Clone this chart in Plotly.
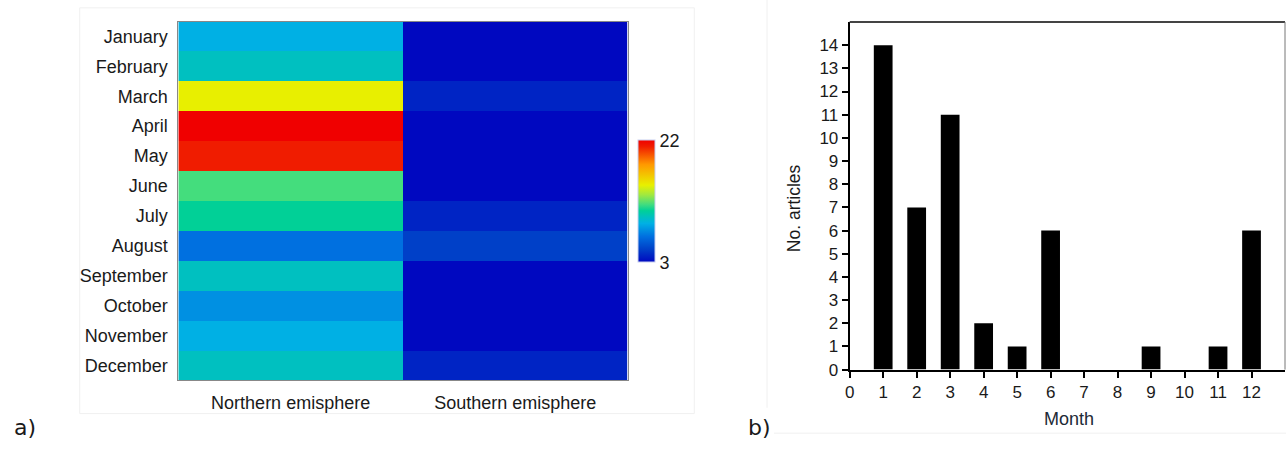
import plotly.graph_objects as go

# Panel a: monthly values per hemisphere
months = ["January", "February", "March", "April", "May", "June", "July",
          "August", "September", "October", "November", "December"]
hemispheres = ["Northern emisphere", "Southern emisphere"]
northern = [9, 10, 15, 22, 21, 12, 11, 7, 10, 8, 9, 10]
southern = [3, 3, 4, 3, 3, 3, 4, 5, 3, 3, 3, 4]
cbar_ticks = [3, 22]

# Panel b: number of articles per month
month_num = [1, 2, 3, 4, 5, 6, 7, 8, 9, 10, 11, 12]
articles = [14, 7, 11, 2, 1, 6, 0, 0, 1, 0, 1, 6]
x_ticks = list(range(0, 13))
y_ticks = list(range(0, 15))

W, H = 1286, 451
FONT = "Liberation Sans, Arial, sans-serif"
TXT = "#1a1a1a"


def px(x):
    return x / W


def py(y):
    return 1 - y / H


jet = [
    [0.00, "#0008c0"], [0.105, "#0040c8"], [0.21, "#0070e0"],
    [0.316, "#00b0e4"], [0.368, "#00c0c0"], [0.42, "#00d098"],
    [0.47, "#40dc80"], [0.55, "#a0e840"], [0.63, "#e8f000"],
    [0.80, "#ff9800"], [0.947, "#f01c00"], [1.00, "#f00000"],
]

z = [[n, s] for n, s in zip(northern, southern)]

fig = go.Figure()

fig.add_trace(go.Heatmap(
    z=z, x=hemispheres, y=months, zmin=3, zmax=22,
    colorscale=jet, xgap=0, ygap=0, hoverinfo="skip",
    xaxis="x", yaxis="y",
    colorbar=dict(
        x=px(635), xanchor="left", y=py(206), yanchor="middle",
        thickness=17, thicknessmode="pixels",
        len=122, lenmode="pixels",
        tickvals=cbar_ticks, ticktext=[str(v) for v in cbar_ticks],
        ticks="", outlinewidth=1, outlinecolor="#c8d0f0",
        tickfont=dict(family=FONT, size=18, color=TXT),
        xpad=0, ypad=0,
    ),
))

fig.add_trace(go.Bar(
    x=month_num, y=articles, width=0.56,
    marker=dict(color="black", line=dict(width=0)),
    xaxis="x2", yaxis="y2", hoverinfo="skip", showlegend=False,
))

fig.update_layout(
    width=W, height=H,
    margin=dict(l=0, r=0, t=0, b=0),
    paper_bgcolor="white", plot_bgcolor="white",
    showlegend=False,
    font=dict(family=FONT, color=TXT),
    xaxis=dict(
        domain=[px(174), px(625)], anchor="y",
        showgrid=False, zeroline=False,
        showline=True, mirror=True, linecolor="#888888", linewidth=1,
        ticks="", tickfont=dict(family=FONT, size=18, color=TXT),
        ticklabelstandoff=6,
    ),
    yaxis=dict(
        domain=[py(389), py(22)], anchor="x",
        autorange="reversed",
        showgrid=False, zeroline=False,
        showline=True, mirror=True, linecolor="#888888", linewidth=1,
        ticks="", tickfont=dict(family=FONT, size=18, color=TXT),
        ticklabelstandoff=6,
    ),
    xaxis2=dict(
        domain=[px(848), px(1285)], anchor="y2",
        range=[0, 13], tickvals=x_ticks,
        showgrid=False, zeroline=False,
        showline=True, linecolor="black", linewidth=2,
        ticks="outside", ticklen=6, tickwidth=2, tickcolor="black",
        tickfont=dict(family=FONT, size=17, color=TXT),
    ),
    yaxis2=dict(
        domain=[py(378), py(22.5)], anchor="x2",
        range=[0, 15], tickvals=y_ticks,
        showgrid=False, zeroline=False,
        showline=True, linecolor="black", linewidth=2,
        ticks="outside", ticklen=6, tickwidth=2, tickcolor="black",
        tickfont=dict(family=FONT, size=17, color=TXT),
    ),
)

shapes = [
    # faint frame around panel a
    dict(type="rect", xref="paper", yref="paper",
         x0=px(75), x1=px(692), y0=py(423), y1=py(8),
         line=dict(color="#f0f0f0", width=1), layer="below"),
    # faint separators around panel b
    dict(type="line", xref="paper", yref="paper",
         x0=px(765), x1=px(765), y0=py(417), y1=1,
         line=dict(color="#f0f0f0", width=1), layer="below"),
    dict(type="line", xref="paper", yref="paper",
         x0=px(772), x1=1, y0=py(443), y1=py(443),
         line=dict(color="#f0f0f0", width=1), layer="below"),
    # box edges of the bar plot
    dict(type="line", xref="x2 domain", yref="y2 domain",
         x0=0, x1=1, y0=1, y1=1,
         line=dict(color="#444444", width=2)),
    dict(type="line", xref="x2 domain", yref="y2 domain",
         x0=1, x1=1, y0=0, y1=1,
         line=dict(color="#777777", width=1)),
]
fig.update_layout(shapes=shapes)

annotations = [
    dict(text="No. articles", xref="paper", yref="paper",
         x=px(792), y=py(213), textangle=-90, showarrow=False,
         xanchor="center", yanchor="middle",
         font=dict(family=FONT, size=17.5, color=TXT)),
    dict(text="Month", xref="paper", yref="paper",
         x=px(1068), y=py(428), showarrow=False,
         xanchor="center", yanchor="middle",
         font=dict(family=FONT, size=18, color="#1e2a36")),
    dict(text="a)", xref="paper", yref="paper",
         x=px(20), y=py(437), showarrow=False,
         xanchor="center", yanchor="middle",
         font=dict(family="DejaVu Sans, sans-serif", size=22, color=TXT)),
    dict(text="b)", xref="paper", yref="paper",
         x=px(757), y=py(437), showarrow=False,
         xanchor="center", yanchor="middle",
         font=dict(family="DejaVu Sans, sans-serif", size=22, color=TXT)),
]
fig.update_layout(annotations=annotations)

fig.write_html("out.html")
